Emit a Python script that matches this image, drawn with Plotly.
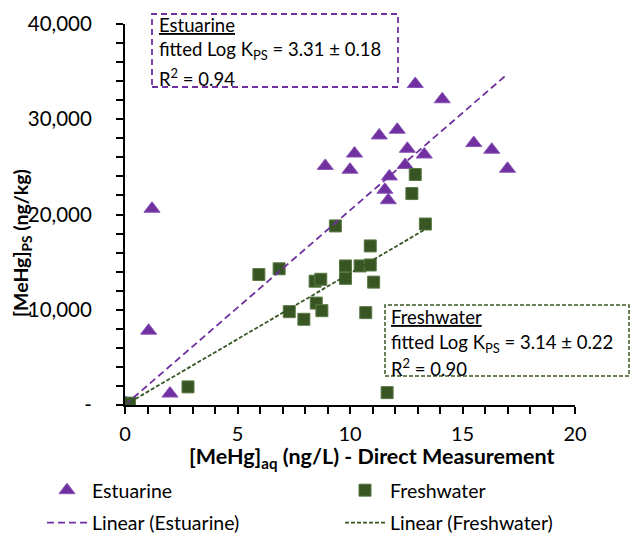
import plotly.graph_objects as go

# Estuarine data (x: [MeHg]aq ng/L, y: [MeHg]PS ng/kg)
est_x = [0.05, 1.2, 1.05, 2.0, 8.9, 10.0, 10.2, 11.3, 12.1, 12.9, 14.1, 12.55, 12.45, 13.3,
         11.75, 11.55, 11.7, 15.5, 16.3, 17.0]
est_y = [200, 20600, 7800, 1200, 25100, 24700, 26400, 28300, 28900, 33700, 32100, 26900, 25200, 26300,
         24000, 22600, 21500, 27500, 26800, 24800]

# Freshwater data
fw_x = [0.0, 0.1, 0.2, 2.8, 5.95, 6.85, 7.3, 7.95, 8.45, 8.7, 8.5, 8.75, 9.35, 9.8, 9.8, 10.45,
        10.9, 10.9, 11.05, 10.7, 11.65, 12.75, 12.9, 13.35]
fw_y = [150, 100, 200, 1900, 13700, 14300, 9800, 9000, 13000, 13200, 10700, 9900, 18800, 14600, 13300, 14600,
        14700, 16700, 12900, 9700, 1300, 22200, 24200, 19000]

# Linear trendlines (endpoints)
est_line_x = [0, 17.0]
est_line_y = [0, 34750]
fw_line_x = [0, 13.35]
fw_line_y = [0, 18450]

y_tickvals = [0, 10000, 20000, 30000, 40000]
y_ticktext = ["-", "10,000", "20,000", "30,000", "40,000"]
x_tickvals = [0, 5, 10, 15, 20]

PURPLE = "#7030A0"
GREEN = "#375623"
FONT = "Lato"

L, R, T, B = 125, 56, 24, 128
W, H = 631, 533
pw, ph = W - L - R, H - T - B

def px2paper_x(px):
    return (px - L) / pw

def px2paper_y(py):
    return (H - B - py) / ph

fig = go.Figure()
fig.add_trace(go.Scatter(x=est_x, y=est_y, mode="markers", name="Estuarine", legend="legend",
                         legendgroup="a", legendrank=1,
                         marker=dict(symbol="triangle-up", size=14, color=PURPLE,
                                     line=dict(color="#8a55b8", width=1))))
fig.add_trace(go.Scatter(x=fw_x, y=fw_y, mode="markers", name="Freshwater", legend="legend2",
                         legendgroup="c", legendrank=1,
                         marker=dict(symbol="square", size=12, color=GREEN,
                                     line=dict(color="#5a7a45", width=1))))
fig.add_trace(go.Scatter(x=est_line_x, y=est_line_y, mode="lines", name="Linear (Estuarine)", legend="legend",
                         legendgroup="b", legendrank=2,
                         line=dict(color=PURPLE, width=1.8, dash="7px,4px")))
fig.add_trace(go.Scatter(x=fw_line_x, y=fw_line_y, mode="lines", name="Linear (Freshwater)", legend="legend2",
                         legendgroup="d", legendrank=2,
                         line=dict(color=GREEN, width=1.8, dash="4px,2px")))

shapes = [
    dict(type="rect", xref="paper", yref="paper",
         x0=px2paper_x(152), x1=px2paper_x(398), y0=px2paper_y(87), y1=px2paper_y(14),
         line=dict(color=PURPLE, width=1.8, dash="6px,4px"), fillcolor="rgba(0,0,0,0)"),
    dict(type="rect", xref="paper", yref="paper",
         x0=px2paper_x(385), x1=px2paper_x(629), y0=px2paper_y(376), y1=px2paper_y(305),
         line=dict(color=GREEN, width=1.5, dash="4px,2px"), fillcolor="rgba(0,0,0,0)"),
]

def line_ann(text, x_px, y_px, size=18.5):
    return dict(xref="paper", yref="paper", x=px2paper_x(x_px), y=px2paper_y(y_px),
                xanchor="left", yanchor="middle", align="left", showarrow=False,
                text=text, font=dict(family=FONT, size=size, color="black"))

annotations = [
    line_ann("<u>Estuarine</u>", 157, 25),
    line_ann("fitted Log K<sub>PS</sub> = 3.31 ± 0.18", 157, 51),
    line_ann("R<sup>2</sup> = 0.94", 157, 77),
    line_ann("<u>Freshwater</u>", 389, 317),
    line_ann("fitted Log K<sub>PS</sub> = 3.14 ± 0.22", 389, 343),
    line_ann("R<sup>2</sup> = 0.90", 389, 367),
    # axis titles
    dict(xref="paper", yref="paper", x=px2paper_x(372), y=px2paper_y(458), xanchor="center", yanchor="middle",
         showarrow=False, text="<b>[MeHg]<sub>aq</sub> (ng/L) - Direct Measurement</b>",
         font=dict(family=FONT, size=21.5, color="black")),
    dict(xref="paper", yref="paper", x=px2paper_x(22), y=px2paper_y(243), xanchor="center", yanchor="middle",
         showarrow=False, textangle=-90, text="<b>[MeHg]<sub>PS</sub> (ng/kg)</b>",
         font=dict(family=FONT, size=19.5, color="black")),
]

legend_common = dict(orientation="v", xanchor="left", yanchor="top", font=dict(family=FONT, size=19.5),
                     traceorder="grouped", tracegroupgap=4, itemwidth=40, bgcolor="rgba(0,0,0,0)")

fig.update_layout(
    width=W, height=H,
    margin=dict(l=L, r=R, t=T, b=B, autoexpand=False),
    paper_bgcolor="white", plot_bgcolor="white",
    font=dict(family=FONT, size=20, color="black"),
    shapes=shapes, annotations=annotations,
    legend=dict(x=px2paper_x(42), y=px2paper_y(471), **legend_common),
    legend2=dict(x=px2paper_x(340), y=px2paper_y(471), **legend_common),
    showlegend=True,
)

fig.update_xaxes(range=[0, 20], tickvals=x_tickvals, showgrid=False, zeroline=False,
                 showline=True, linecolor="black", linewidth=2, automargin=False,
                 ticks="outside", ticklen=7, tickwidth=2, tickcolor="black",
                 minor=dict(dtick=1, ticks="outside", ticklen=7, tickwidth=2, tickcolor="black", showgrid=False),
                 tickfont=dict(size=20, family=FONT), ticklabelstandoff=3)
fig.update_yaxes(range=[0, 40000], tickvals=y_tickvals, ticktext=y_ticktext, showgrid=False, zeroline=False,
                 showline=True, linecolor="black", linewidth=2, automargin=False,
                 ticks="outside", ticklen=7, tickwidth=2, tickcolor="black",
                 minor=dict(dtick=2000, ticks="outside", ticklen=7, tickwidth=2, tickcolor="black", showgrid=False),
                 tickfont=dict(size=20.5, family=FONT), ticklabelstandoff=20)

fig.write_html("out.html", config={"displayModeBar": False},
               post_script="document.body.style.margin='0px';document.body.style.overflow='hidden';")
